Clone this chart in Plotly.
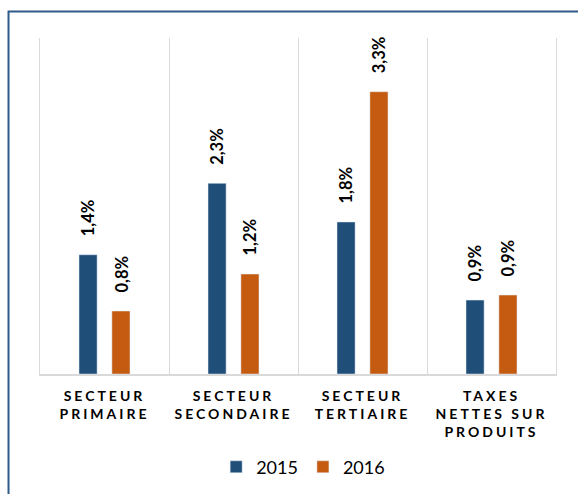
import plotly.graph_objects as go

categories = ["SECTEUR<br>PRIMAIRE", "SECTEUR<br>SECONDAIRE", "SECTEUR<br>TERTIAIRE", "TAXES<br>NETTES SUR<br>PRODUITS"]
values_2015 = [1.42, 2.27, 1.81, 0.88]
values_2016 = [0.75, 1.19, 3.36, 0.94]
labels_2015 = ["1,4%", "2,3%", "1,8%", "0,9%"]
labels_2016 = ["0,8%", "1,2%", "3,3%", "0,9%"]
series = [("2015", values_2015, labels_2015, "#1F4E79", -16.5),
          ("2016", values_2016, labels_2016, "#C55A11", 16.5)]

FONT = "Lato"

def spaced(label):
    return "<br>".join(
        f"<span style='letter-spacing:3px'>{line}</span>" for line in label.split("<br>")
    )

tick_text = [spaced(c) for c in categories]

fig = go.Figure()
annotations = []
for name, vals, labs, color, shift in series:
    fig.add_trace(go.Bar(name=name, x=categories, y=vals, marker_color=color))
    for c, v, t in zip(categories, vals, labs):
        annotations.append(dict(
            x=c, y=v, xref="x", yref="y", text=f"<b>{t}</b>", showarrow=False,
            textangle=-90, xanchor="center", yanchor="bottom", xshift=shift, yshift=16,
            font=dict(family=FONT, size=16.5, color="#000000"),
        ))

fig.update_layout(
    width=578, height=494,
    margin=dict(l=40, r=22, t=38, b=120, autoexpand=False),
    paper_bgcolor="white", plot_bgcolor="white",
    barmode="group", bargap=0.49, bargroupgap=0.45,
    font=dict(family=FONT, color="#000000"),
    showlegend=True,
    legend=dict(orientation="h", x=0.51, xanchor="center", y=-0.222, yanchor="top",
                font=dict(family=FONT, size=18, color="#000000"),
                itemwidth=30, traceorder="normal"),
    xaxis=dict(
        type="category", tickson="boundaries", showgrid=True, gridcolor="#D9D9D9", gridwidth=1,
        ticks="", showline=True, linecolor="#D9D9D9", linewidth=2, automargin=False,
        tickmode="array", tickvals=categories, ticktext=tick_text, ticklabelstandoff=8,
        tickfont=dict(family=FONT, size=14, color="#000000", weight="bold"),
    ),
    yaxis=dict(range=[0, 4], showgrid=False, showticklabels=False, zeroline=False,
               showline=True, mirror=True, linecolor="#D9D9D9", linewidth=1, automargin=False),
    annotations=annotations,
    shapes=[dict(type="rect", xref="paper", yref="paper",
                 x0=-0.061, x1=1.2, y0=-0.6, y1=1.079,
                 line=dict(color="#2E5B8A", width=2), fillcolor="rgba(0,0,0,0)", layer="below")],
)

fig.write_html("out.html", config={"displayModeBar": False},
               post_script="document.body.style.margin='0px';")
